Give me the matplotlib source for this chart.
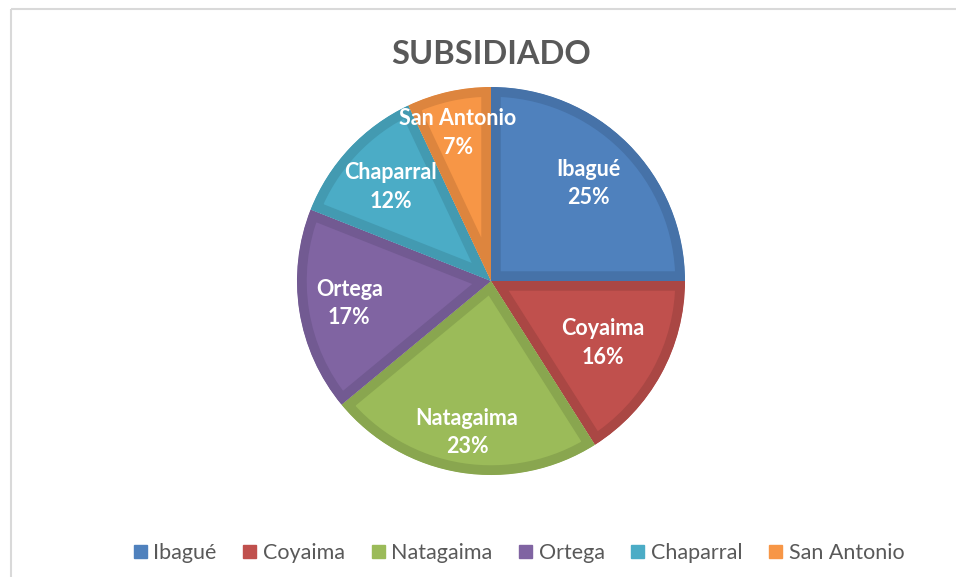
import matplotlib

matplotlib.use("Agg")
import matplotlib.pyplot as plt
import numpy as np
from matplotlib.patches import Patch, Wedge

# datos del gráfico
MUNICIPIOS = ["Ibagué", "Coyaima", "Natagaima", "Ortega", "Chaparral", "San Antonio"]
PORCENTAJES = [25, 16, 23, 17, 12, 7]
COLORES = ["#4f81bd", "#c0504d", "#9bbb59", "#8064a2", "#4bacc6", "#f79646"]
BORDES = ["#4672a8", "#aa4744", "#89a64f", "#725a92", "#439ab1", "#dd853e"]
TITULO = "SUBSIDIADO"

# distancia radial de cada etiqueta (fracción del radio)
DIST_ETIQUETAS = [0.71, 0.66, 0.79, 0.74, 0.71, 0.78]

plt.rcParams["font.family"] = ["Lato", "DejaVu Sans"]

W, H = 956, 577
fig = plt.figure(figsize=(W / 100, H / 100), dpi=100)
ax = fig.add_axes([0, 0, 1, 1])

cx, cy, r = 491, H - 281, 194
wedges, _ = ax.pie(
    PORCENTAJES,
    colors=COLORES,
    startangle=90,
    counterclock=False,
    center=(cx, cy),
    radius=r,
    frame=True,
)
ax.set_xlim(0, W)
ax.set_ylim(0, H)
ax.set_aspect("equal")
ax.axis("off")

# borde interior más oscuro (estilo Excel): trazo grueso recortado a la cuña
for w, edge in zip(wedges, BORDES):
    w.set_edgecolor(edge)
    w.set_linewidth(14)
    w.set_joinstyle("miter")
    clip = Wedge(w.center, w.r, w.theta1, w.theta2, transform=ax.transData)
    w.set_clip_on(True)
    w.set_clip_path(clip)

for w, name, pct, d in zip(wedges, MUNICIPIOS, PORCENTAJES, DIST_ETIQUETAS):
    ang = np.deg2rad((w.theta1 + w.theta2) / 2)
    x = cx + d * r * np.cos(ang)
    y = cy + d * r * np.sin(ang)
    ax.text(x, y, f"{name}\n{pct}%", ha="center", va="center", color="white",
            fontsize=15.5, fontweight="bold", linespacing=1.45)

# marco del gráfico
ax.plot([11, 11], [0, H - 9], color="#d9d9d9", lw=1.5, solid_capstyle="butt")
ax.plot([11, W], [H - 9, H - 9], color="#d9d9d9", lw=1.5, solid_capstyle="butt")

# restos del texto del documento por encima
ax.text(530, H + 3, "g", ha="center", va="bottom", fontsize=16, color="black", clip_on=False)

ax.text(cx, H - 54, TITULO, ha="center", va="center", fontsize=23.5, fontweight="bold",
        color="#595959")

handles = [Patch(facecolor=c, edgecolor=c) for c in COLORES]
ax.legend(handles, MUNICIPIOS, ncol=6, loc="center", bbox_to_anchor=(519 / W, 1 - 553 / H),
          frameon=False, fontsize=15.5, handlelength=0.6, handleheight=0.6,
          handletextpad=0.3, columnspacing=1.25, labelcolor="#595959")

fig.savefig("out.png", dpi=100)
plt.close(fig)
